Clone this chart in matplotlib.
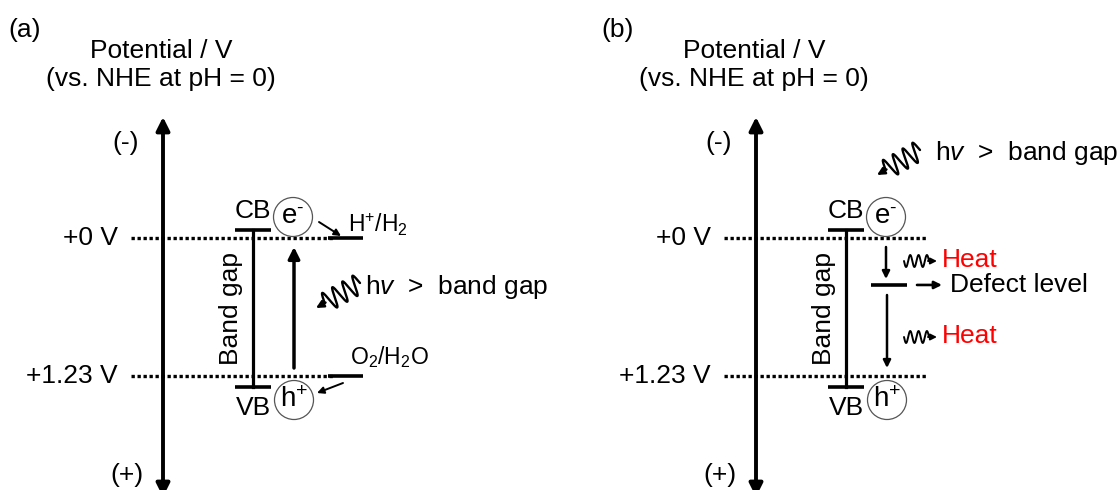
import matplotlib
matplotlib.use('Agg')
import matplotlib.pyplot as plt
from matplotlib.patches import Circle
import numpy as np

plt.rcParams['font.family'] = ['Liberation Sans', 'DejaVu Sans']
plt.rcParams['mathtext.fontset'] = 'custom'
plt.rcParams['mathtext.rm'] = 'Liberation Sans'
plt.rcParams['mathtext.it'] = 'Liberation Sans:italic'

# potentials vs. NHE at pH = 0 (V)
ref_labels = ['+0 V', '+1.23 V']
ref_values = [0.0, 1.23]
cb_edge = -0.07
vb_edge = 1.32
defect_level = 0.42
redox_labels = [r'$\mathregular{H^{+}/H_{2}}$', r'$\mathregular{O_{2}/H_{2}O}$']

# canvas scale: pixel row of 0 V and pixels per volt
Y0 = 237.5
PX_PER_V = 113
FS = 19


def vy(v):
    return Y0 + v * PX_PER_V


def arrow(ax, tail, tip, lw=2.2, scale=16, style='-|>'):
    ax.annotate('', xy=tip, xytext=tail,
                arrowprops=dict(arrowstyle=style, lw=lw, color='k',
                                mutation_scale=scale, shrinkA=0, shrinkB=0))


def squiggle(ax, start, end, waves, amp, lw=1.3, head=8, scale=9):
    # wavy photon / heat arrow from start to end
    start = np.array(start, float)
    end = np.array(end, float)
    d = end - start
    length = np.hypot(*d)
    u = d / length
    n = np.array([-u[1], u[0]])
    wave_end = length - head
    t = np.linspace(0, wave_end, 200)
    off = amp * np.sin(2 * np.pi * waves * t / wave_end)
    pts = start + np.outer(t, u) + np.outer(off, n)
    ax.plot(pts[:, 0], pts[:, 1], color='k', lw=lw, solid_capstyle='round')
    arrow(ax, tuple(start + u * (wave_end - 1)), tuple(end), lw=lw, scale=scale)


def common(ax, x0, tag):
    ax.text(x0 + 8, 30, tag, fontsize=FS, ha='left', va='center')
    ax.text(x0 + 161, 51, 'Potential / V', fontsize=FS, ha='center', va='center')
    ax.text(x0 + 161, 79, '(vs. NHE at pH = 0)', fontsize=FS, ha='center', va='center')

    # potential axis
    arrow(ax, (x0 + 163, 497), (x0 + 163, 117), lw=2.8, scale=20, style='<|-|>')
    ax.text(x0 + 126, 143, '(-)', fontsize=FS, ha='center', va='center')
    ax.text(x0 + 127, 475, '(+)', fontsize=FS, ha='center', va='center')

    for lab, v in zip(ref_labels, ref_values):
        ax.text(x0 + 118, vy(v), lab, fontsize=FS, ha='right', va='center')
        ax.plot([x0 + 131, x0 + 334], [vy(v), vy(v)], color='k', lw=2.4,
                linestyle=(0, (1, 0.8)), zorder=1)

    # band edges
    ax.plot([x0 + 235, x0 + 271], [vy(cb_edge)] * 2, color='k', lw=2.6, solid_capstyle='butt')
    ax.plot([x0 + 235, x0 + 271], [vy(vb_edge)] * 2, color='k', lw=2.6, solid_capstyle='butt')
    ax.plot([x0 + 253, x0 + 253], [vy(cb_edge), vy(vb_edge)], color='k', lw=2.3)
    ax.text(x0 + 253, vy(cb_edge) - 19, 'CB', fontsize=FS, ha='center', va='center')
    ax.text(x0 + 253, vy(vb_edge) + 21, 'VB', fontsize=FS, ha='center', va='center')
    ax.text(x0 + 231, 308, 'Band gap', fontsize=FS, ha='center', va='center', rotation=90)

    # carriers
    for cx, cy, lab in [(x0 + 293, 217, r'$\mathregular{e^{\text{-}}}$'),
                        (x0 + 294, 400, r'$\mathregular{h^{+}}$')]:
        ax.add_patch(Circle((cx, cy), 19.5, facecolor='white', edgecolor='#555555',
                            lw=0.9, zorder=3))
        ax.text(cx, cy, lab, fontsize=20, ha='center', va='center', zorder=4)


fig = plt.figure(figsize=(11.2, 4.9), dpi=100)
ax = fig.add_axes([0, 0, 1, 1])
ax.set_xlim(0, 1120)
ax.set_ylim(490, 0)
ax.set_aspect('equal')
ax.axis('off')

# (a) water splitting
common(ax, 0, '(a)')
arrow(ax, (294, 368), (294, 247), lw=2.5, scale=17)
for lab, v, ty, tx in zip(redox_labels, ref_values, [225, 357], [348, 350]):
    ax.plot([328, 363], [vy(v)] * 2, color='k', lw=2.6, solid_capstyle='butt', zorder=2)
    ax.text(tx, ty, lab, fontsize=16.5, ha='left', va='center')
arrow(ax, (319, 222), (341, 236), lw=1.4, scale=10)
arrow(ax, (343, 383), (317, 393), lw=1.4, scale=10)
squiggle(ax, (360, 283), (316, 308), waves=3.5, amp=10, lw=1.7, head=10, scale=11)
ax.text(365, 287, r'h$\mathit{v}$  >  band gap', fontsize=FS, ha='left', va='center')

# (b) recombination through a defect level
x0 = 593
common(ax, x0, '(b)')
squiggle(ax, (x0 + 327, 150), (x0 + 284, 175), waves=3.5, amp=10, lw=1.7, head=10, scale=11)
ax.text(x0 + 342, 153, r'h$\mathit{v}$  >  band gap', fontsize=FS, ha='left', va='center')
arrow(ax, (x0 + 293, 247), (x0 + 293, 279), lw=1.8, scale=11)
ax.plot([x0 + 278, x0 + 314], [vy(defect_level)] * 2, color='k', lw=2.6, solid_capstyle='butt')
arrow(ax, (x0 + 324, vy(defect_level)), (x0 + 349, vy(defect_level)), lw=1.9, scale=11)
ax.text(x0 + 357, vy(defect_level), 'Defect level', fontsize=FS, ha='left', va='center')
arrow(ax, (x0 + 294, 295), (x0 + 294, 368), lw=1.8, scale=11)
for hy in [261, 337]:
    squiggle(ax, (x0 + 311, hy), (x0 + 344, hy), waves=3.0, amp=6, lw=1.4, head=8, scale=9)
    ax.text(x0 + 349, hy - 1, 'Heat', fontsize=FS, color='#ff0000', ha='left', va='center')

fig.savefig('out.png', dpi=100)
